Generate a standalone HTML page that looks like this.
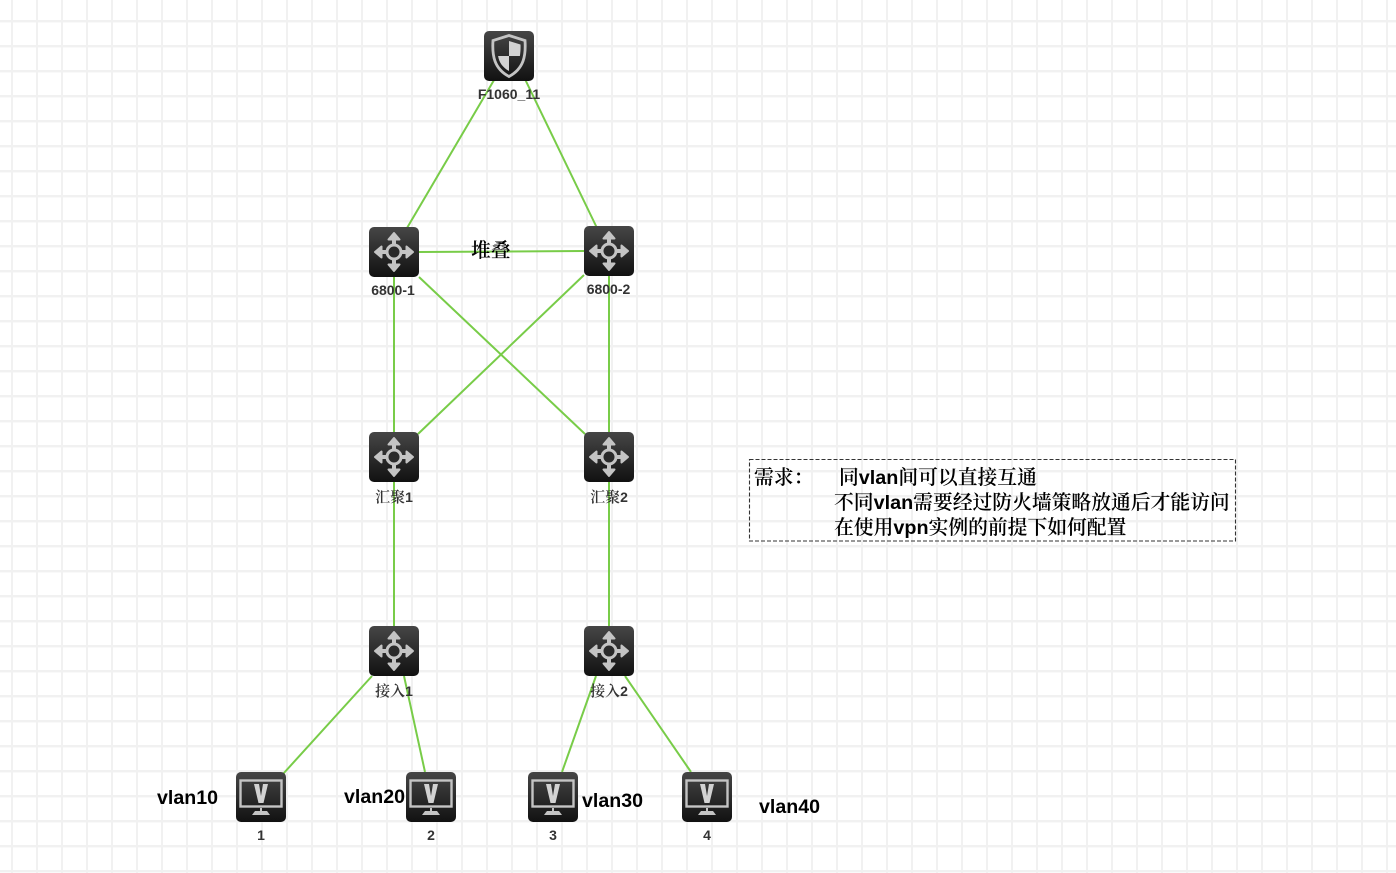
<!DOCTYPE html>
<html><head><meta charset="utf-8"><style>
html,body{margin:0;padding:0;background:#fff}
svg{display:block}
.l{font:bold 14px "Liberation Sans","Noto Serif CJK SC",serif;fill:#333;text-anchor:middle}
.k{font:600 15px "Noto Serif CJK SC",serif;fill:#333}
.v{font:bold 19.600px "Liberation Sans",sans-serif;fill:#000}
.c{font:600 19.800px "Liberation Sans","Noto Serif CJK SC",serif;fill:#000}
.c tspan{font-weight:bold;font-family:"Liberation Sans",sans-serif}
</style></head><body>
<svg width="1396" height="873" viewBox="0 0 1396 873" xmlns="http://www.w3.org/2000/svg">
<defs>
<pattern id="g" width="25" height="25" patternUnits="userSpaceOnUse" x="0" y="0">
<rect x="11" width="2" height="25" fill="#f1f1f1"/><rect y="20" width="25" height="2.4" fill="#f1f1f1"/>
</pattern>
<linearGradient id="b" x1="0" y1="0" x2="0" y2="1"><stop offset="0" stop-color="#464646"/><stop offset="1" stop-color="#111"/></linearGradient>
<g id="ar"><path d="M25 6L30.500 12.500H19.500Z" fill="#c4c4c4" stroke="#c4c4c4" stroke-width="2" stroke-linejoin="round"/><rect x="23" y="12" width="4" height="7" fill="#c4c4c4"/></g>
<g id="sw">
<rect width="50" height="50" rx="5" fill="url(#b)"/>
<use href="#ar"/>
<use href="#ar" transform="rotate(90 25 25)"/>
<use href="#ar" transform="rotate(180 25 25)"/>
<use href="#ar" transform="rotate(270 25 25)"/>
<circle cx="25" cy="25" r="7" fill="#2a2a2a" stroke="#c4c4c4" stroke-width="3"/>
</g>
<g id="pc">
<rect width="50" height="50" rx="5" fill="url(#b)"/>
<rect x="4.500" y="8.500" width="41" height="26" fill="none" stroke="#c4c4c4" stroke-width="2.400"/>
<path d="M18 12h5l2 12 2-12h5l-4.500 19h-5z" fill="#d2d2d2"/>
<path d="M24 36h2v3h5l3 4H16l3-4h5z" fill="#c4c4c4"/>
</g>
<g id="fw">
<rect width="50" height="50" rx="5" fill="url(#b)"/>
<path d="M25 4.500l16 5c1 15-1 28-16 36C10 37.500 8 24.500 9 9.500z" fill="none" stroke="#c4c4c4" stroke-width="2.800"/>
<path d="M25 10l11.500 3.500c.2 4 0 7.500-.6 11.500H25zM25 25v15c-6.500-3.500-10-9-10.900-15z" fill="#d2d2d2"/>
</g>
</defs>
<rect width="1396" height="873" fill="#fff"/>
<rect width="1396" height="873" fill="url(#g)"/>

<g stroke="#78cc48" stroke-width="2" fill="none">
<line x1="497" y1="75" x2="407" y2="228"/>
<line x1="523" y1="75" x2="597" y2="228"/>
<line x1="419" y1="252" x2="584" y2="251"/>
<line x1="394" y1="277" x2="394" y2="432"/>
<line x1="609" y1="276" x2="609" y2="432"/>
<line x1="419" y1="277" x2="585" y2="434"/>
<line x1="584" y1="275" x2="418" y2="434"/>
<line x1="394" y1="482" x2="394" y2="626"/>
<line x1="609" y1="482" x2="609" y2="626"/>
<line x1="372" y1="676" x2="283" y2="774"/>
<line x1="404" y1="676" x2="425" y2="772"/>
<line x1="596" y1="676" x2="562" y2="772"/>
<line x1="625" y1="676" x2="691" y2="772"/>
</g>

<use href="#fw" x="484" y="31"/>
<use href="#sw" x="369" y="227"/>
<use href="#sw" x="584" y="226"/>
<use href="#sw" x="369" y="432"/>
<use href="#sw" x="584" y="432"/>
<use href="#sw" x="369" y="626"/>
<use href="#sw" x="584" y="626"/>
<use href="#pc" x="236" y="772"/>
<use href="#pc" x="406" y="772"/>
<use href="#pc" x="528" y="772"/>
<use href="#pc" x="682" y="772"/>

<text class="l" x="509" y="99">F1060_11</text>
<text class="l" x="393" y="295">6800-1</text>
<text class="l" x="608.500" y="294">6800-2</text>
<text class="l" x="394" y="502"><tspan class="k">汇聚</tspan>1</text>
<text class="l" x="609" y="502"><tspan class="k">汇聚</tspan>2</text>
<text class="l" x="394" y="696"><tspan class="k">接入</tspan>1</text>
<text class="l" x="609" y="696"><tspan class="k">接入</tspan>2</text>
<text class="l" x="261" y="840">1</text>
<text class="l" x="431" y="840">2</text>
<text class="l" x="553" y="840">3</text>
<text class="l" x="707" y="840">4</text>

<text class="c" x="471" y="257">堆叠</text>
<text class="v" x="157" y="804">vlan10</text>
<text class="v" x="344" y="803">vlan20</text>
<text class="v" x="582" y="807">vlan30</text>
<text class="v" x="759" y="813">vlan40</text>

<rect x="749.500" y="459.500" width="486" height="81.500" fill="none" stroke="#333" stroke-width="1.100" stroke-dasharray="4 2"/>
<text class="c" x="754" y="484">需求：</text>
<text class="c" x="839" y="484">同<tspan>vlan</tspan>间可以直接互通</text>
<text class="c" x="834" y="509">不同<tspan>vlan</tspan>需要经过防火墙策略放通后才能访问</text>
<text class="c" x="834" y="534">在使用<tspan>vpn</tspan>实例的前提下如何配置</text>
</svg>
</body></html>
